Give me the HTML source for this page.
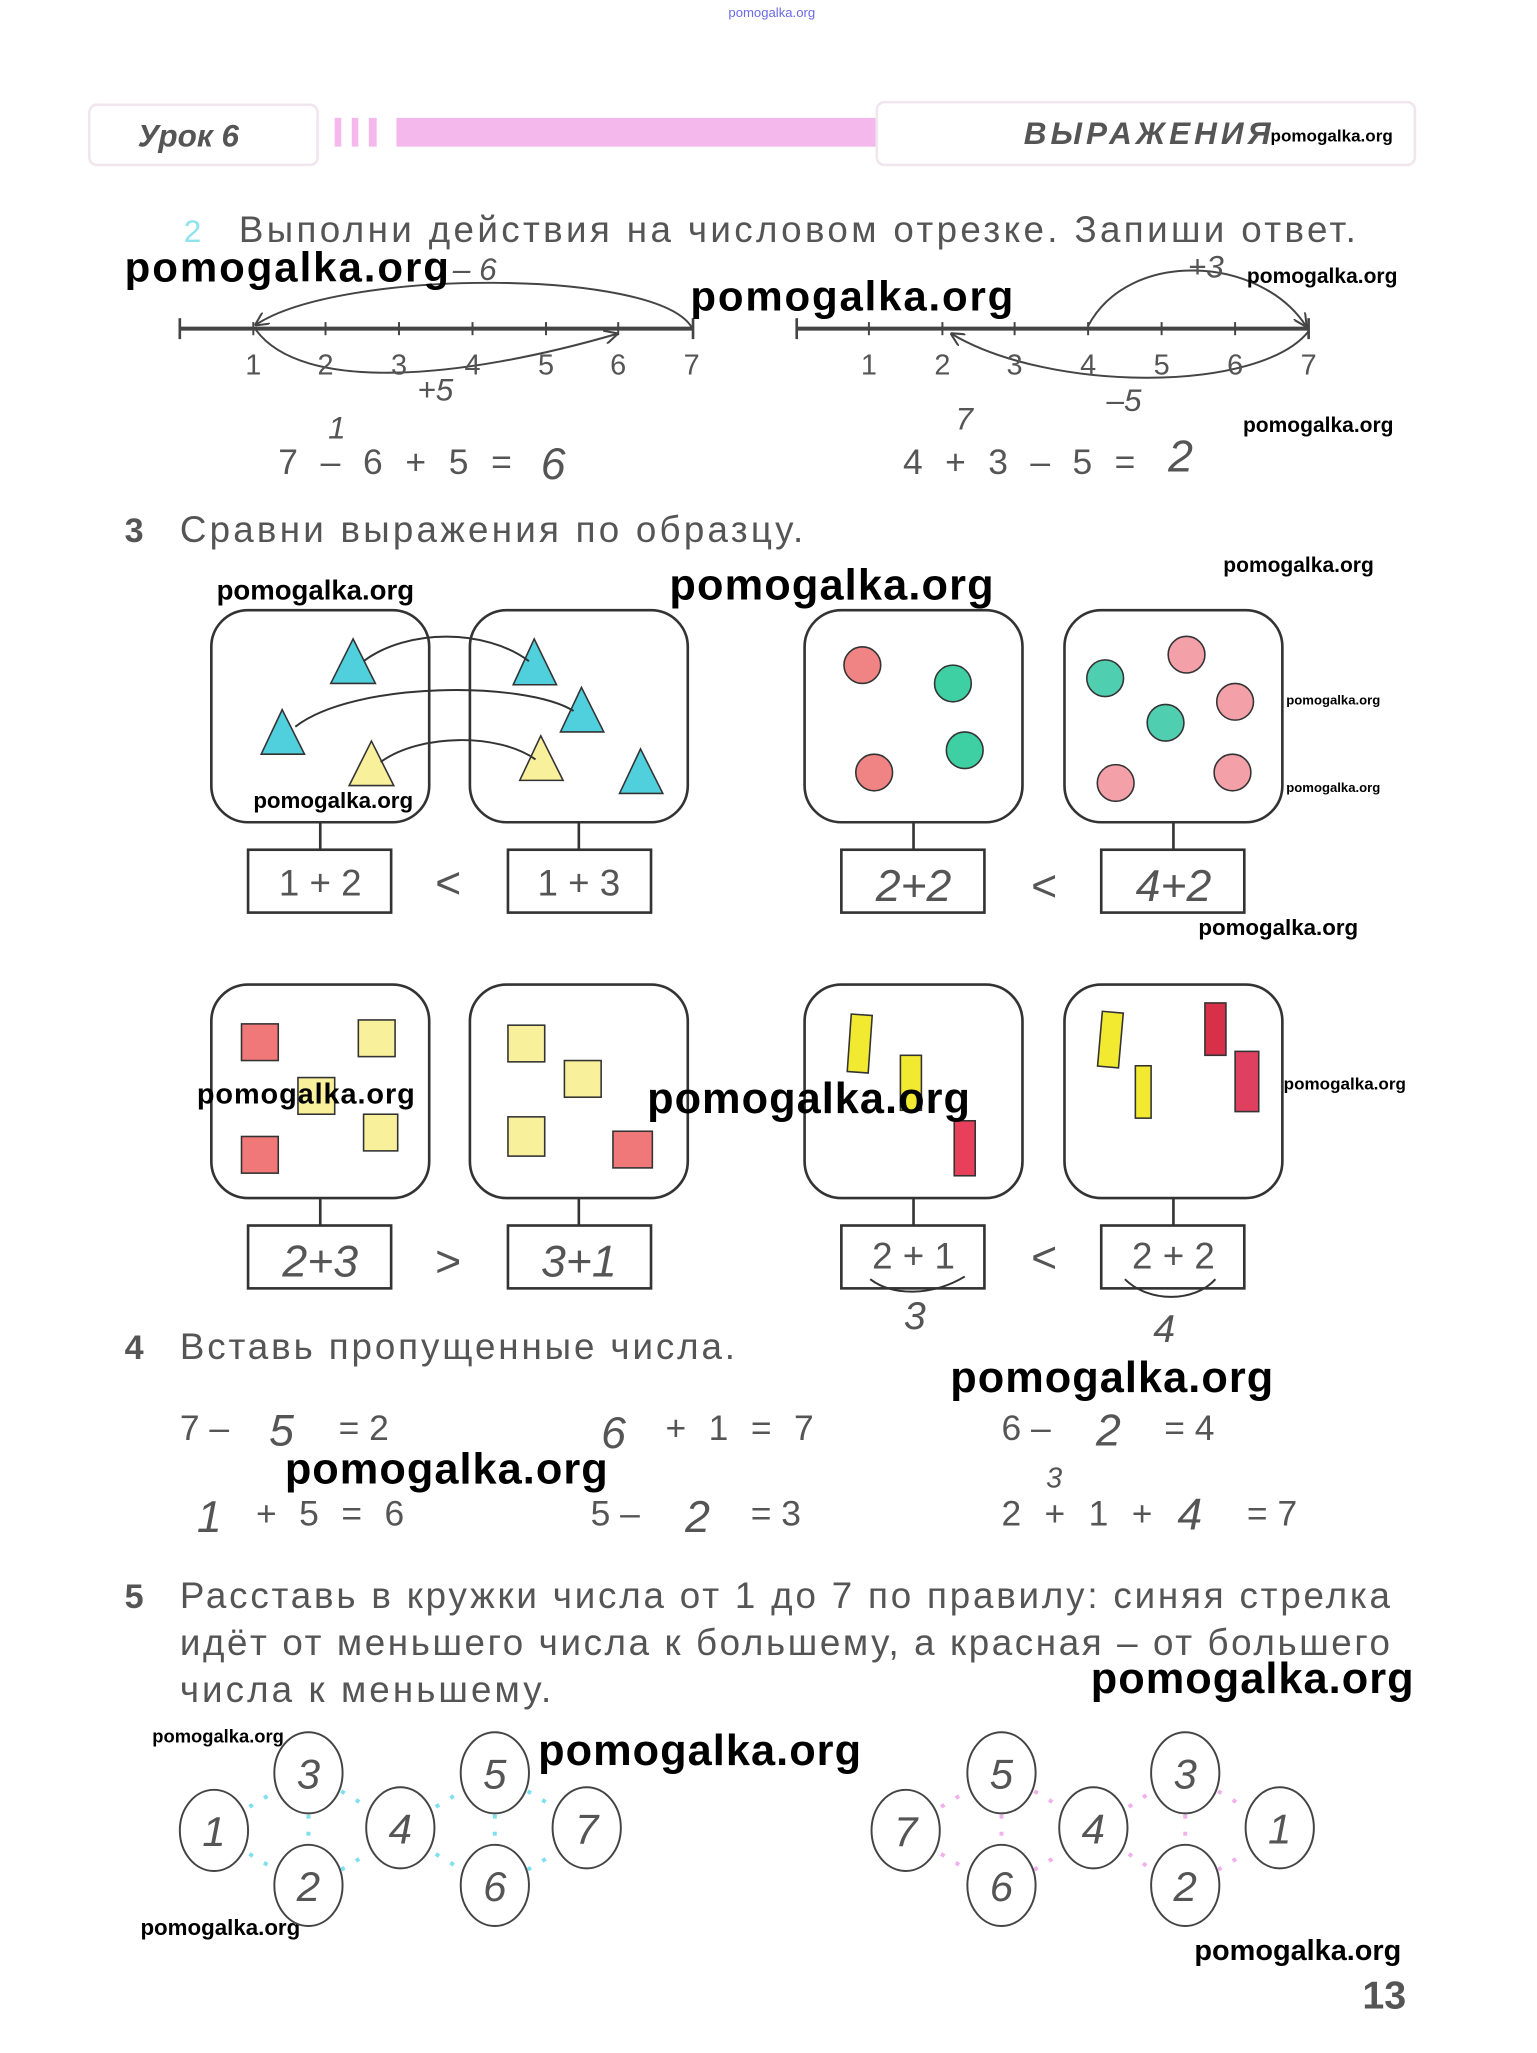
<!DOCTYPE html>
<html><head><meta charset="utf-8"><style>
html,body{margin:0;padding:0;background:#fff;}
svg{display:block;}
.t{font-family:"Liberation Sans Narrow","Liberation Sans",sans-serif;fill:#555;}
.w{font-family:"Liberation Sans",sans-serif;font-weight:bold;fill:#000;}
.h{font-family:"Liberation Sans",sans-serif;font-style:italic;fill:#555;}
.n{font-family:"Liberation Sans",sans-serif;fill:#555;}
</style></head><body>
<svg width="1537" height="2053" viewBox="0 0 1171 1568" preserveAspectRatio="none" xmlns="http://www.w3.org/2000/svg">
<defs><marker id="ar" viewBox="0 0 10 10" refX="9" refY="5" markerWidth="7" markerHeight="7" orient="auto"><path d="M0,0 L10,5 L0,10" fill="none" stroke="#444" stroke-width="1.5"/></marker></defs>
<text x="588" y="13" font-size="10" fill="#6a6ae8" font-family="Liberation Sans" text-anchor="middle">pomogalka.org</text>
<!-- header -->
<rect x="68" y="80" width="174" height="46" rx="6" fill="#fff" stroke="#f2e6ee" stroke-width="2"/>
<text x="105" y="112" font-size="24" font-weight="bold" font-style="italic" class="n" fill="#555">Урок 6</text>
<rect x="255" y="90" width="5" height="22" fill="#f4b8ec"/><rect x="268" y="90" width="5" height="22" fill="#f4b8ec"/><rect x="281" y="90" width="6" height="22" fill="#f4b8ec"/>
<rect x="302" y="90" width="366" height="22" fill="#f4b8ec"/>
<rect x="668" y="78" width="410" height="48" rx="6" fill="#fff" stroke="#f2e6ee" stroke-width="2"/>
<text x="780" y="110" font-size="24" font-weight="bold" font-style="italic" class="n" textLength="188">ВЫРАЖЕНИЯ</text>
<text x="968" y="108" font-size="13" class="w">pomogalka.org</text>
<!-- task 2 -->
<text x="140" y="185" font-size="24" fill="#8fe3ee" font-family="Liberation Sans">2</text>
<text x="182" y="185" font-size="28" class="t" textLength="851">Выполни действия на числовом отрезке. Запиши ответ.</text>
<g stroke="#444" fill="none">
<line x1="137" y1="251" x2="528" y2="251" stroke-width="3"/>
<line x1="137" y1="243" x2="137" y2="259" stroke-width="2"/><line x1="528" y1="243" x2="528" y2="259" stroke-width="2"/>
<line x1="607" y1="251" x2="997" y2="251" stroke-width="3"/>
<line x1="607" y1="243" x2="607" y2="259" stroke-width="2"/><line x1="997" y1="243" x2="997" y2="259" stroke-width="2"/>
<g stroke-width="1.5">
<line x1="193" y1="246" x2="193" y2="256"/><line x1="248" y1="246" x2="248" y2="256"/><line x1="304" y1="246" x2="304" y2="256"/><line x1="360" y1="246" x2="360" y2="256"/><line x1="416" y1="246" x2="416" y2="256"/><line x1="471" y1="246" x2="471" y2="256"/>
<line x1="662" y1="246" x2="662" y2="256"/><line x1="718" y1="246" x2="718" y2="256"/><line x1="773" y1="246" x2="773" y2="256"/><line x1="829" y1="246" x2="829" y2="256"/><line x1="885" y1="246" x2="885" y2="256"/><line x1="941" y1="246" x2="941" y2="256"/>
<path d="M527,250 C500,205 260,205 195,248" marker-end="url(#ar)"/>
<path d="M195,252 C230,300 350,290 470,255" marker-end="url(#ar)"/>
<path d="M829,249 C860,190 960,195 995,249" marker-end="url(#ar)"/>
<path d="M997,253 C960,300 800,300 725,255" marker-end="url(#ar)"/>
</g></g>
<g font-size="22" class="n" text-anchor="middle">
<text x="193" y="286">1</text><text x="248" y="286">2</text><text x="304" y="286">3</text><text x="360" y="286">4</text><text x="416" y="286">5</text><text x="471" y="286">6</text><text x="527" y="286">7</text>
<text x="662" y="286">1</text><text x="718" y="286">2</text><text x="773" y="286">3</text><text x="829" y="286">4</text><text x="885" y="286">5</text><text x="941" y="286">6</text><text x="997" y="286">7</text>
</g>
<g class="h" font-size="24">
<text x="345" y="214">– 6</text><text x="905" y="212">+3</text><text x="318" y="306">+5</text><text x="843" y="314">–5</text>
<text x="250" y="335">1</text><text x="728" y="328">7</text>
<text x="412" y="366" font-size="34">6</text><text x="890" y="360" font-size="34">2</text>
</g>
<text x="212" y="362" font-size="27" class="n" textLength="178">7 – 6 + 5 =</text>
<text x="688" y="362" font-size="27" class="n" textLength="177">4 + 3 – 5 =</text>
<text x="95" y="215" font-size="32" class="w" textLength="247">pomogalka.org</text>
<text x="526" y="237" font-size="32" class="w" textLength="246">pomogalka.org</text>
<text x="950" y="216" font-size="16" class="w">pomogalka.org</text>
<text x="947" y="330" font-size="16" class="w">pomogalka.org</text>
<!-- task 3 -->
<text x="95" y="414" font-size="26" font-weight="bold" class="n">3</text>
<text x="137" y="414" font-size="28" class="t" textLength="475">Сравни выражения по образцу.</text>
<g fill="#fff" stroke="#333" stroke-width="2">
<rect x="161" y="466" width="166" height="162" rx="28"/><rect x="358" y="466" width="166" height="162" rx="28"/>
<rect x="613" y="466" width="166" height="162" rx="28"/><rect x="811" y="466" width="166" height="162" rx="28"/>
<rect x="161" y="752" width="166" height="163" rx="28"/><rect x="358" y="752" width="166" height="163" rx="28"/>
<rect x="613" y="752" width="166" height="163" rx="28"/><rect x="811" y="752" width="166" height="163" rx="28"/>
<rect x="189" y="649" width="109" height="48"/><rect x="387" y="649" width="109" height="48"/>
<rect x="641" y="649" width="109" height="48"/><rect x="839" y="649" width="109" height="48"/>
<rect x="189" y="936" width="109" height="48"/><rect x="387" y="936" width="109" height="48"/>
<rect x="641" y="936" width="109" height="48"/><rect x="839" y="936" width="109" height="48"/>
</g>
<g stroke="#333" stroke-width="2">
<line x1="244" y1="628" x2="244" y2="649"/><line x1="441" y1="628" x2="441" y2="649"/><line x1="696" y1="628" x2="696" y2="649"/><line x1="894" y1="628" x2="894" y2="649"/>
<line x1="244" y1="915" x2="244" y2="936"/><line x1="441" y1="915" x2="441" y2="936"/><line x1="696" y1="915" x2="696" y2="936"/><line x1="894" y1="915" x2="894" y2="936"/>
</g>
<g stroke="#333" stroke-width="1.2">
<polygon points="269,488 252,522 286,522" fill="#4fd0dc"/><polygon points="215,542 199,576 232,576" fill="#4fd0dc"/><polygon points="283,566 266,600 300,600" fill="#f8f09a"/>
<polygon points="407,488 391,523 424,523" fill="#4fd0dc"/><polygon points="443,525 427,559 460,559" fill="#4fd0dc"/><polygon points="412,562 396,596 429,596" fill="#f8f09a"/><polygon points="488,572 472,606 505,606" fill="#4fd0dc"/>
<g fill="none" stroke-width="1.5"><path d="M277,505 C310,480 370,480 403,505"/><path d="M225,555 C270,520 400,520 437,543"/><path d="M290,582 C320,560 380,560 408,580"/></g>
<circle cx="657" cy="508" r="14" fill="#f08484"/><circle cx="726" cy="522" r="14" fill="#3ecfa2"/><circle cx="735" cy="573" r="14" fill="#3ecfa2"/><circle cx="666" cy="590" r="14" fill="#f08484"/>
<circle cx="842" cy="518" r="14" fill="#4fcfb0"/><circle cx="904" cy="500" r="14" fill="#f4a0a8"/><circle cx="941" cy="536" r="14" fill="#f4a0a8"/><circle cx="888" cy="552" r="14" fill="#4fcfb0"/><circle cx="850" cy="598" r="14" fill="#f4a0a8"/><circle cx="939" cy="590" r="14" fill="#f4a0a8"/>
<rect x="184" y="782" width="28" height="28" fill="#f07878"/><rect x="273" y="779" width="28" height="28" fill="#f8f09a"/><rect x="227" y="823" width="28" height="28" fill="#f8f09a"/><rect x="277" y="851" width="26" height="28" fill="#f8f09a"/><rect x="184" y="868" width="28" height="28" fill="#f07878"/>
<rect x="387" y="783" width="28" height="28" fill="#f8f09a"/><rect x="430" y="810" width="28" height="28" fill="#f8f09a"/><rect x="387" y="853" width="28" height="30" fill="#f8f09a"/><rect x="467" y="864" width="30" height="28" fill="#f07878"/>
<rect x="647" y="775" width="16" height="44" fill="#f2ea30" transform="rotate(4 655 797)"/><rect x="686" y="806" width="16" height="42" fill="#f2ea30"/><rect x="727" y="856" width="16" height="42" fill="#e8405a"/>
<rect x="838" y="773" width="16" height="42" fill="#f2ea30" transform="rotate(5 846 794)"/><rect x="865" y="814" width="12" height="40" fill="#f2ea30"/><rect x="918" y="766" width="16" height="40" fill="#d83048"/><rect x="941" y="803" width="18" height="46" fill="#e04060"/>
</g>
<g class="n" font-size="28" text-anchor="middle">
<text x="244" y="684">1 + 2</text><text x="441" y="684">1 + 3</text>
<text x="696" y="969">2 + 1</text><text x="894" y="969">2 + 2</text>
</g>
<g class="h" font-size="34" text-anchor="middle" fill="#444">
<text x="341" y="686">&lt;</text><text x="696" y="688">2+2</text><text x="795" y="688">&lt;</text><text x="894" y="688">4+2</text>
<text x="244" y="975">2+3</text><text x="341" y="975">&gt;</text><text x="441" y="975">3+1</text><text x="795" y="972">&lt;</text>
<text x="697" y="1015" font-size="30">3</text><text x="887" y="1025" font-size="30">4</text>
</g>
<g fill="none" stroke="#333" stroke-width="1.5"><path d="M663,977 C680,990 710,990 735,975"/><path d="M857,977 C875,995 910,995 926,977"/></g>
<text x="165" y="458" font-size="21" class="w">pomogalka.org</text>
<text x="510" y="458" font-size="33" class="w" textLength="247">pomogalka.org</text>
<text x="932" y="437" font-size="16" class="w">pomogalka.org</text>
<text x="193" y="617" font-size="17" class="w">pomogalka.org</text>
<text x="980" y="538" font-size="10" class="w">pomogalka.org</text>
<text x="980" y="605" font-size="10" class="w">pomogalka.org</text>
<text x="913" y="714" font-size="17" class="w">pomogalka.org</text>
<text x="150" y="843" font-size="22" class="w" textLength="166">pomogalka.org</text>
<text x="493" y="850" font-size="33" class="w" textLength="246">pomogalka.org</text>
<text x="978" y="832" font-size="13" class="w">pomogalka.org</text>
<!-- task 4 -->
<text x="95" y="1038" font-size="26" font-weight="bold" class="n">4</text>
<text x="137" y="1038" font-size="28" class="t" textLength="423">Вставь пропущенные числа.</text>
<g class="n" font-size="27">
<text x="137" y="1100">7 –</text><text x="258" y="1100">= 2</text><text x="507" y="1100" textLength="113">+ 1 = 7</text><text x="763" y="1100">6 –</text><text x="887" y="1100">= 4</text>
<text x="195" y="1165" textLength="113">+ 5 = 6</text><text x="450" y="1165">5 –</text><text x="572" y="1165">= 3</text><text x="763" y="1165" textLength="115">2 + 1 +</text><text x="950" y="1165">= 7</text>
</g>
<g class="h" font-size="34">
<text x="205" y="1104">5</text><text x="458" y="1106">6</text><text x="835" y="1104">2</text>
<text x="150" y="1170">1</text><text x="522" y="1170">2</text><text x="897" y="1168">4</text><text x="797" y="1136" font-size="22">3</text>
</g>
<text x="724" y="1063" font-size="33" class="w" textLength="246">pomogalka.org</text>
<text x="217" y="1133" font-size="33" class="w" textLength="246">pomogalka.org</text>
<!-- task 5 -->
<text x="95" y="1228" font-size="26" font-weight="bold" class="n">5</text>
<g class="t" font-size="28">
<text x="137" y="1228" textLength="922">Расставь в кружки числа от 1 до 7 по правилу: синяя стрелка</text>
<text x="137" y="1264" textLength="922">идёт от меньшего числа к большему, а красная – от большего</text>
<text x="137" y="1300" textLength="283">числа к меньшему.</text>
</g>
<text x="831" y="1293" font-size="33" class="w" textLength="246">pomogalka.org</text>
<text x="116" y="1331" font-size="14" class="w">pomogalka.org</text>
<text x="410" y="1348" font-size="33" class="w" textLength="246">pomogalka.org</text>
<text x="107" y="1478" font-size="17" class="w">pomogalka.org</text>
<text x="910" y="1497" font-size="22" class="w">pomogalka.org</text>
<g fill="#fff" stroke="#444" stroke-width="1.5">
<ellipse cx="163" cy="1398" rx="26" ry="31"/><ellipse cx="235" cy="1354" rx="26" ry="31"/><ellipse cx="235" cy="1440" rx="26" ry="31"/><ellipse cx="305" cy="1396" rx="26" ry="31"/><ellipse cx="377" cy="1354" rx="26" ry="31"/><ellipse cx="377" cy="1440" rx="26" ry="31"/><ellipse cx="447" cy="1396" rx="26" ry="31"/>
<ellipse cx="690" cy="1398" rx="26" ry="31"/><ellipse cx="763" cy="1354" rx="26" ry="31"/><ellipse cx="763" cy="1440" rx="26" ry="31"/><ellipse cx="833" cy="1396" rx="26" ry="31"/><ellipse cx="903" cy="1354" rx="26" ry="31"/><ellipse cx="903" cy="1440" rx="26" ry="31"/><ellipse cx="975" cy="1396" rx="26" ry="31"/>
</g>
<g stroke="#7ee0ee" stroke-width="3" stroke-dasharray="3 10">
<line x1="190" y1="1380" x2="210" y2="1368"/><line x1="190" y1="1416" x2="210" y2="1428"/><line x1="235" y1="1386" x2="235" y2="1408"/><line x1="260" y1="1368" x2="280" y2="1380"/><line x1="260" y1="1428" x2="280" y2="1416"/>
<line x1="332" y1="1380" x2="352" y2="1368"/><line x1="332" y1="1416" x2="352" y2="1428"/><line x1="377" y1="1386" x2="377" y2="1408"/><line x1="402" y1="1368" x2="422" y2="1380"/><line x1="402" y1="1428" x2="422" y2="1416"/>
</g>
<g stroke="#f0b0ec" stroke-width="3" stroke-dasharray="3 10">
<line x1="717" y1="1380" x2="737" y2="1368"/><line x1="717" y1="1416" x2="737" y2="1428"/><line x1="763" y1="1386" x2="763" y2="1408"/><line x1="788" y1="1368" x2="808" y2="1380"/><line x1="788" y1="1428" x2="808" y2="1416"/>
<line x1="860" y1="1380" x2="878" y2="1368"/><line x1="860" y1="1416" x2="878" y2="1428"/><line x1="903" y1="1386" x2="903" y2="1408"/><line x1="928" y1="1368" x2="948" y2="1380"/><line x1="928" y1="1428" x2="948" y2="1416"/>
</g>
<g class="h" font-size="32" text-anchor="middle" fill="#444">
<text x="163" y="1410">1</text><text x="235" y="1366">3</text><text x="235" y="1452">2</text><text x="305" y="1408">4</text><text x="377" y="1366">5</text><text x="377" y="1452">6</text><text x="447" y="1408">7</text>
<text x="690" y="1410">7</text><text x="763" y="1366">5</text><text x="763" y="1452">6</text><text x="833" y="1408">4</text><text x="903" y="1366">3</text><text x="903" y="1452">2</text><text x="975" y="1408">1</text>
</g>
<text x="1038" y="1534" font-size="30" font-weight="bold" class="n">13</text>
</svg>
</body></html>
